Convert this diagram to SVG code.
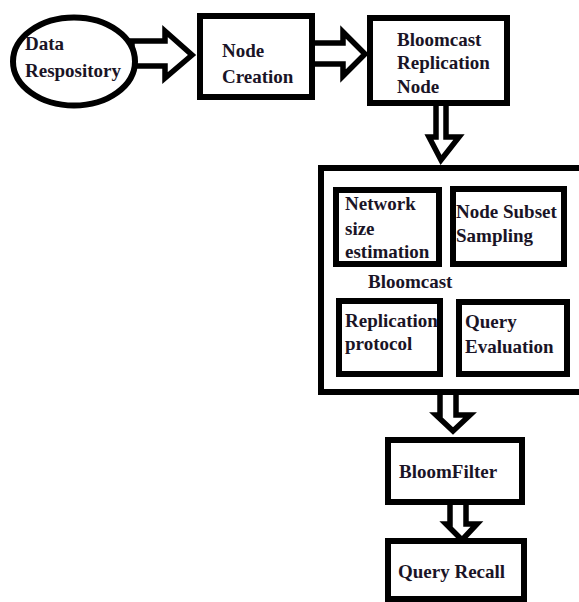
<svg xmlns="http://www.w3.org/2000/svg" width="579" height="602" viewBox="0 0 579 602">
<style>
.box{fill:#fff;stroke:#000;stroke-width:6}
.arr{fill:#fff;stroke:#000;stroke-width:5.5;stroke-linejoin:miter;stroke-miterlimit:10}
text{font-family:"Liberation Serif","Times New Roman",serif;font-weight:bold;font-size:19px;fill:#1a1426}
</style>
<rect width="579" height="602" fill="#fff"/>
<g id="connectors">
<polygon class="arr" points="132,41 165,41 165,31 192,55 165,78 165,66 132,66"/>
<polygon class="arr" points="312,43 343,43 343,32 365,54 343,76 343,64 312,64"/>
<polygon class="arr" points="436,103 446,103 446,137 459,137 441,160 429,137 436,137"/>
<polygon class="arr" points="440,392 456,392 456,415 470,415 453,431 436,415 440,415"/>
<polygon class="arr" points="450,502 466,502 466,524 477,524 462,540 446,524 450,524"/>
</g>
<g id="data-repository">
<ellipse class="box" cx="74" cy="61.5" rx="61" ry="44"/>
<text x="25" y="50">Data</text>
<text x="25" y="77">Respository</text>
</g>
<g id="node-creation">
<rect class="box" x="200" y="16" width="112" height="81"/>
<text x="222" y="57">Node</text>
<text x="222" y="83">Creation</text>
</g>
<g id="bloomcast-replication-node">
<rect class="box" x="370" y="18" width="137" height="85"/>
<text x="397" y="46">Bloomcast</text>
<text x="397" y="69">Replication</text>
<text x="397" y="93">Node</text>
</g>
<g id="bloomcast">
<rect class="box" x="321" y="168" width="270" height="224"/>
<text x="368" y="288">Bloomcast</text>
</g>
<g id="network-size-estimation">
<rect class="box" x="336" y="190" width="103" height="74"/>
<text x="345" y="210">Network</text>
<text x="345" y="235">size</text>
<text x="345" y="258">estimation</text>
</g>
<g id="node-subset-sampling">
<rect class="box" x="453" y="189" width="111" height="75"/>
<text x="456" y="218">Node Subset</text>
<text x="456" y="242">Sampling</text>
</g>
<g id="replication-protocol">
<rect class="box" x="339" y="301" width="101" height="73"/>
<text x="345" y="327">Replication</text>
<text x="345" y="350">protocol</text>
</g>
<g id="query-evaluation">
<rect class="box" x="459" y="302" width="108" height="72"/>
<text x="465" y="328">Query</text>
<text x="465" y="353">Evaluation</text>
</g>
<g id="bloomfilter">
<rect class="box" x="388" y="440" width="134" height="62"/>
<text x="399" y="478">BloomFilter</text>
</g>
<g id="query-recall">
<rect class="box" x="388" y="541" width="136" height="58"/>
<text x="398" y="578">Query Recall</text>
</g>
</svg>
